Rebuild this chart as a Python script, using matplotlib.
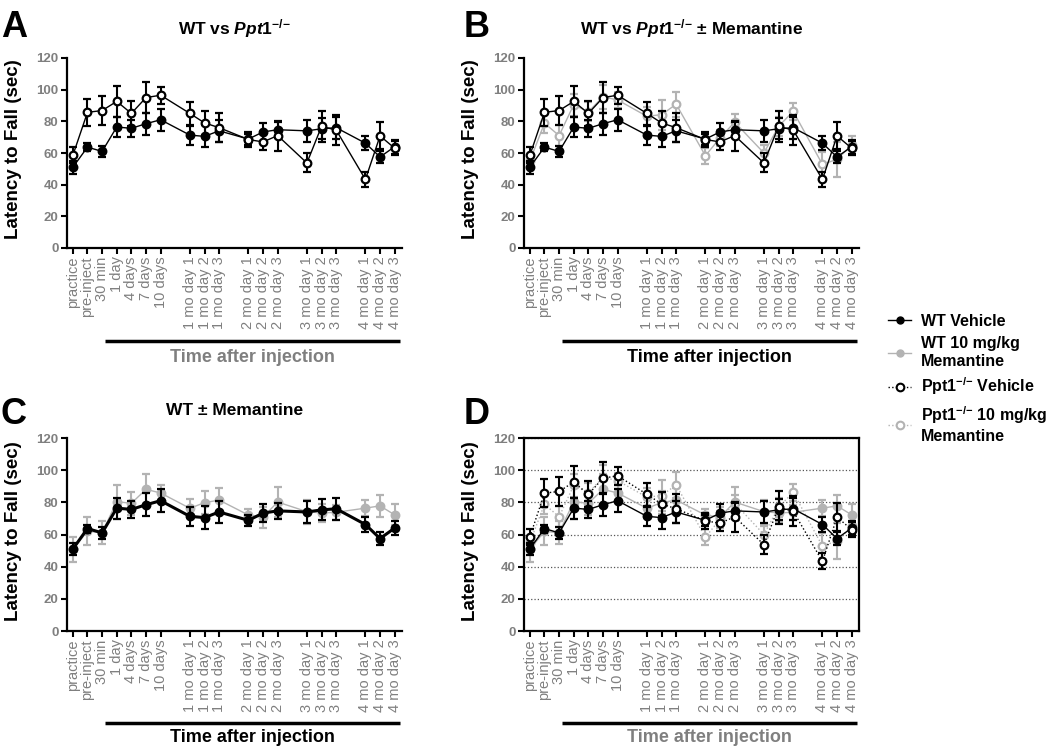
import matplotlib
matplotlib.use("Agg")
import matplotlib.pyplot as plt
from matplotlib.lines import Line2D
from matplotlib import transforms

plt.rcParams['font.family'] = ['Liberation Sans', 'DejaVu Sans']
plt.rcParams['mathtext.fontset'] = 'custom'
plt.rcParams['mathtext.rm'] = 'Liberation Sans:bold'
plt.rcParams['mathtext.bf'] = 'Liberation Sans:bold'
plt.rcParams['mathtext.it'] = 'Liberation Sans:bold:italic'

# ---------------- data ----------------
tick_labels = ["practice", "pre-inject", "30 min", "1 day", "4 days", "7 days", "10 days",
               "1 mo day 1", "1 mo day 2", "1 mo day 3",
               "2 mo day 1", "2 mo day 2", "2 mo day 3",
               "3 mo day 1", "3 mo day 2", "3 mo day 3",
               "4 mo day 1", "4 mo day 2", "4 mo day 3"]
group_sizes = [7, 3, 3, 3, 3]

wt_veh = [51, 63.7, 61, 76.4, 75.6, 78.5, 81, 71.3, 70.5, 74, 68.8, 73.3, 74.7, 74, 75.3, 76, 66.2, 57.5, 64]
wt_veh_sem = [4, 2.5, 3.5, 6.5, 5.5, 7, 7, 6, 7, 7, 3.5, 5.5, 5, 7, 6.5, 7, 4.5, 4, 4.5]

wt_mem = [50.8, 62, 61.1, 80.4, 79.4, 88.1, 85.8, 76.3, 79.8, 81.4, 72.1, 70.8, 80.2, 74.2, 73.4, 73.8, 76.4, 77.8, 72.2]
wt_mem_sem = [7.8, 8.8, 7, 10.5, 7, 9.3, 5.2, 5.8, 7.2, 7.5, 3.5, 6.5, 9.5, 7.5, 5.5, 4.5, 5, 7, 6.5]

ppt_veh = [58.5, 85.7, 86.8, 92.6, 85, 95, 96.5, 85, 79, 76, 68.5, 67, 71, 53.7, 76.8, 74.5, 43.3, 70.8, 63]
ppt_veh_sem = [5, 8.5, 9, 10, 8, 10, 5.5, 7, 7.5, 9, 5, 5, 9.5, 6, 10, 9.5, 5, 8.5, 4.5]

ppt_mem = [55, 78.8, 71, 90.5, 86, 95.5, 93.5, 83.2, 84.2, 90.8, 58.3, 69.5, 79.5, 60, 76.8, 86.3, 52.8, 56, 65]
ppt_mem_sem = [4, 6, 6.5, 7, 6, 7.5, 5, 6, 9.5, 8, 5, 5, 5, 5, 6, 5.3, 8, 11, 6]

# category positions with gaps between groups
xpos = []
p = 0
for gi, n in enumerate(group_sizes):
    for k in range(n):
        xpos.append(p)
        p += 1
    p += 1

BLACK = 'black'
GRAY = '#b3b3b3'
TXTGRAY = '#7f7f7f'

SUP_IT = r"^{\mathit{{-}/{-}}}"
SUP = r"^{{-}/{-}}"

W, H = 1050, 748
fig = plt.figure(figsize=(W / 100, H / 100), dpi=100)

def fx(px):
    return px / W

def fy(py):
    return 1 - py / H

axA = fig.add_axes([fx(67), fy(248), 335 / W, 190 / H])
axB = fig.add_axes([fx(524), fy(248), 335 / W, 190 / H])
axC = fig.add_axes([fx(67), fy(631), 335 / W, 193 / H])
axD = fig.add_axes([fx(524), fy(631), 335 / W, 193 / H])


def style(ax, box=False, time_color=TXTGRAY, bar_y=-0.49, txt_y=-0.575):
    ax.set_xlim(-0.4, 22.5)
    ax.set_ylim(0, 120)
    ax.set_yticks(range(0, 121, 20))
    ax.set_xticks(xpos)
    ax.set_xticklabels(tick_labels, rotation=90, color=TXTGRAY, fontsize=10.5)
    for t in ax.get_yticklabels():
        t.set_color(TXTGRAY)
        t.set_fontweight('bold')
        t.set_fontsize(9.5)
    for s in ['top', 'right']:
        ax.spines[s].set_visible(box)
    for s in ax.spines.values():
        s.set_linewidth(1.6)
    ax.tick_params(width=1.5, length=4, direction='out', pad=2)
    ax.set_ylabel("Latency to Fall (sec)", fontsize=13.5, fontweight='bold')
    ax.yaxis.set_label_coords(-0.135, 0.52)
    tr = transforms.blended_transform_factory(ax.transData, ax.transAxes)
    ax.plot([2.2, 22.35], [bar_y, bar_y], transform=tr, clip_on=False, color='black', lw=2.5,
            solid_capstyle='butt')
    ax.text((2.2 + 22.35) / 2, txt_y, "Time after injection", transform=tr, ha='center', va='center',
            fontsize=13, fontweight='bold', color=time_color)


def series(ax, y, e, color, face, ls='-', lw=1.0, z=3, ms=5.5, mew=1.6):
    ax.errorbar(xpos, y, yerr=e, fmt='o', linestyle=ls, color=color, mfc=face, mec=color,
                ms=ms, mew=mew, lw=lw, elinewidth=1.5, capsize=3, capthick=1.5, zorder=z)


# Panel A
style(axA)
series(axA, wt_veh, wt_veh_sem, BLACK, BLACK, z=3)
series(axA, ppt_veh, ppt_veh_sem, BLACK, 'white', z=4)
axA.text(0.5, 1 + 29 / 190, r"WT vs $\mathit{Ppt1}" + SUP_IT + "$", transform=axA.transAxes,
         ha='center', va='center', fontsize=12.5, fontweight='bold')

# Panel B
style(axB, time_color=BLACK)
series(axB, ppt_mem, ppt_mem_sem, GRAY, 'white', z=3)
series(axB, wt_veh, wt_veh_sem, BLACK, BLACK, z=4)
series(axB, ppt_veh, ppt_veh_sem, BLACK, 'white', z=5)
axB.text(0.5, 1 + 29 / 190, r"WT vs $\mathit{Ppt1}" + SUP_IT + "$ ± Memantine", transform=axB.transAxes,
         ha='center', va='center', fontsize=12.5, fontweight='bold')

# Panel C
style(axC, time_color=BLACK, bar_y=-0.475, txt_y=-0.553)
series(axC, wt_mem, wt_mem_sem, GRAY, GRAY, z=3)
series(axC, wt_veh, wt_veh_sem, BLACK, BLACK, lw=2.2, z=4)
axC.text(0.5, 1 + 28 / 193, "WT ± Memantine", transform=axC.transAxes,
         ha='center', va='center', fontsize=12.5, fontweight='bold')

# Panel D
style(axD, box=True, bar_y=-0.475, txt_y=-0.553)
axD.yaxis.grid(True, linestyle=':', color='#555555', lw=0.9)
axD.set_axisbelow(True)
series(axD, wt_mem, wt_mem_sem, GRAY, GRAY, z=3)
series(axD, ppt_mem, ppt_mem_sem, GRAY, 'white', ls=':', z=4)
series(axD, wt_veh, wt_veh_sem, BLACK, BLACK, z=5)
series(axD, ppt_veh, ppt_veh_sem, BLACK, 'white', ls=':', z=6)

# Panel letters
for letter, x, yb in [("A", 1, 37), ("B", 464, 37), ("C", 1, 424), ("D", 464, 424)]:
    fig.text(fx(x), fy(yb), letter, fontsize=26, fontweight='bold', va='baseline', ha='left')

# Legend
handles = [
    Line2D([], [], color=BLACK, marker='o', mfc=BLACK, mec=BLACK, ms=5, lw=1),
    Line2D([], [], color=GRAY, marker='o', mfc=GRAY, mec=GRAY, ms=5, lw=1),
    Line2D([], [], color=BLACK, marker='o', mfc='white', mec=BLACK, ms=5.5, mew=1.5, lw=1, ls=':'),
    Line2D([], [], color=GRAY, marker='o', mfc='white', mec=GRAY, ms=5.5, mew=1.5, lw=1, ls=':'),
]
labels = ["WT Vehicle", "WT 10 mg/kg\nMemantine", "Ppt1$" + SUP + "$ Vehicle",
          "Ppt1$" + SUP + "$ 10 mg/kg\nMemantine"]
fig.legend(handles, labels, loc='upper left', bbox_to_anchor=(fx(888), fy(314)), frameon=False,
           prop={'size': 11.5, 'weight': 'bold'}, handlelength=1.45, handletextpad=0.6,
           labelspacing=0.45, borderaxespad=0, borderpad=0)

fig.savefig("out.png", dpi=100)
